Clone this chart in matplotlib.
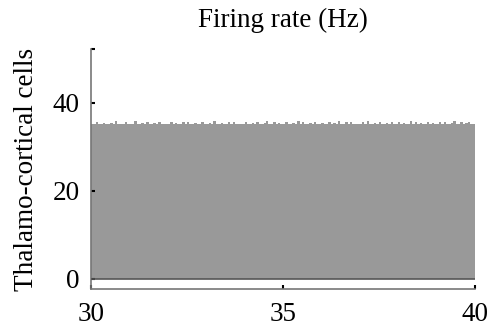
import numpy as np
import matplotlib.pyplot as plt

# firing-rate histogram, 160 bins over 30-40 s
t_start = 30.0
t_end = 40.0
counts = [
    35.1, 35.1, 35.6, 35.1, 35.1, 35.3, 35.1, 35.1, 35.4, 35.1, 35.8, 35.1, 35.1, 35.1, 35.5, 35.1,
    35.2, 35.1, 35.9, 35.1, 35.1, 35.4, 35.1, 35.6, 35.1, 35.1, 35.3, 35.1, 35.5, 35.1, 35.1, 35.2,
    35.1, 35.6, 35.1, 35.3, 35.1, 35.1, 35.5, 35.1, 35.7, 35.1, 35.1, 35.4, 35.1, 35.1, 35.6, 35.1,
    35.1, 35.3, 35.1, 35.8, 35.1, 35.1, 35.4, 35.1, 35.1, 35.5, 35.1, 35.6, 35.1, 35.2, 35.1, 35.1,
    35.7, 35.1, 35.1, 35.4, 35.1, 35.6, 35.1, 35.1, 35.3, 35.9, 35.1, 35.1, 35.5, 35.1, 35.4, 35.1,
    35.1, 35.6, 35.1, 35.1, 35.3, 35.1, 35.8, 35.1, 35.5, 35.1, 35.1, 35.4, 35.1, 35.7, 35.1, 35.1,
    35.4, 35.1, 35.1, 35.6, 35.1, 35.3, 35.1, 35.9, 35.1, 35.1, 35.5, 35.1, 35.6, 35.1, 35.2, 35.1,
    35.1, 35.5, 35.1, 35.8, 35.1, 35.1, 35.4, 35.1, 35.6, 35.1, 35.1, 35.3, 35.1, 35.7, 35.1, 35.1,
    35.6, 35.1, 35.3, 35.1, 35.1, 35.9, 35.1, 35.5, 35.1, 35.4, 35.1, 35.1, 35.7, 35.1, 35.3, 35.1,
    35.1, 35.5, 35.1, 35.6, 35.1, 35.1, 35.4, 35.8, 35.1, 35.1, 35.5, 35.1, 35.3, 35.6, 35.1, 35.1,
]
xticks = [30, 35, 40]
yticks = [0, 20, 40]
ylims = (-2.4, 52.2)

plt.rcParams['font.family'] = ['Liberation Serif', 'DejaVu Serif']
fs = 19.5

fig = plt.figure(figsize=(4.89, 3.28), dpi=100)
ax = fig.add_axes([0.186, 0.118, 0.785, 0.733])

nb = len(counts)
w = (t_end - t_start) / nb
x = t_start + w * (np.arange(nb) + 0.5)
ax.bar(x, counts, width=w, color='#999999', edgecolor='none', linewidth=0)
ax.axhline(0, color='#555555', lw=1.2, zorder=3)

ax.set_xlim(t_start, t_end)
ax.set_ylim(*ylims)
ax.set_xticks(xticks)
ax.set_xticklabels([str(v) for v in xticks])
ax.set_yticks(yticks + [ylims[1]])
ax.set_yticklabels([str(v) for v in yticks] + [''])

for s in ['top', 'right']:
    ax.spines[s].set_visible(False)
for s in ['left', 'bottom']:
    ax.spines[s].set_color('#777777')
    ax.spines[s].set_linewidth(1.2)

ax.tick_params(direction='in', length=3, width=1.5, color='black', labelsize=fs)
ax.tick_params(axis='y', pad=8)
ax.tick_params(axis='x', pad=9)

ax.set_title('Firing rate (Hz)', fontsize=fs, pad=16)
ax.set_ylabel('Thalamo-cortical cells', fontsize=fs, labelpad=10)

fig.savefig('out.png', dpi=100)
